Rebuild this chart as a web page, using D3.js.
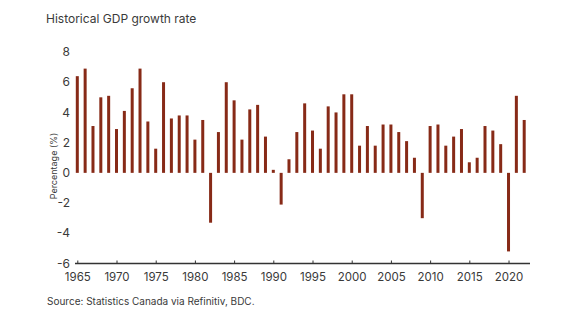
<!DOCTYPE html>
<html>
<head>
<meta charset="utf-8">
<script src="https://cdn.jsdelivr.net/npm/d3@7"></script>
<style>
  html, body { margin: 0; padding: 0; background: #fff; }
  svg { display: block; font-family: Inter, "Noto Sans", sans-serif; }
</style>
</head>
<body>
<svg id="chart" width="575" height="324"></svg>
<script>
const years = d3.range(1965, 2023);
const growth = [
  6.4, 6.9, 3.1, 5.0, 5.1, 2.9, 4.1, 5.6, 6.9, 3.4,
  1.6, 6.0, 3.6, 3.8, 3.8, 2.2, 3.5, -3.3, 2.7, 6.0,
  4.8, 2.2, 4.2, 4.5, 2.4, 0.2, -2.1, 0.9, 2.7, 4.6,
  2.8, 1.6, 4.4, 4.0, 5.2, 5.2, 1.8, 3.1, 1.8, 3.2,
  3.2, 2.7, 2.1, 1.0, -3.0, 3.1, 3.2, 1.8, 2.4, 2.9,
  0.7, 1.0, 3.1, 2.8, 1.9, -5.2, 5.1, 3.5
];
const yTicks = [-6, -4, -2, 0, 2, 4, 6, 8];
const xTicks = [1965, 1970, 1975, 1980, 1985, 1990, 1995, 2000, 2005, 2010, 2015, 2020];
const titleText = "Historical GDP growth rate";
const yLabel = "Percentage (%)";
const sourceText = "Source: Statistics Canada via Refinitiv, BDC.";

const svg = d3.select("#chart");
const x = d3.scaleLinear().domain([1965, 2022]).range([77.3, 524.2]);
const y = d3.scaleLinear().domain([-6, 8]).range([263.5, 52]);
const textColor = "#3a3a3a";

svg.append("text").attr("x", 46).attr("y", 23)
  .attr("font-size", 12).attr("fill", textColor).text(titleText);

// y tick labels
svg.append("g").selectAll("text").data(yTicks).join("text")
  .attr("x", 70).attr("y", d => y(d)).attr("dy", "0.35em")
  .attr("text-anchor", "end").attr("font-size", 12).attr("fill", textColor)
  .text(d => d);

// y label
svg.append("text")
  .attr("transform", `translate(54,166) rotate(-90)`)
  .attr("text-anchor", "middle").attr("dy", "0.35em")
  .attr("font-size", 9).attr("fill", textColor).text(yLabel);

// bars
const bw = 3;
svg.append("g").selectAll("rect").data(years).join("rect")
  .attr("x", (d) => x(d) - bw / 2)
  .attr("width", bw)
  .attr("y", (d, i) => Math.min(y(growth[i]), y(0)))
  .attr("height", (d, i) => Math.max(1, Math.abs(y(growth[i]) - y(0))))
  .attr("fill", "#872a17");

// x axis
const xAxis = d3.axisBottom(x).tickValues(xTicks).tickFormat(d3.format("d"))
  .tickSizeInner(-3).tickSizeOuter(0).tickPadding(9);
const gx = svg.append("g").attr("transform", `translate(0,${y(-6)})`).call(xAxis);
gx.select(".domain").remove();
gx.append("line").attr("x1", 75).attr("x2", 530).attr("y1", 0).attr("y2", 0)
  .attr("stroke", "#333").attr("stroke-width", 1.5);
gx.selectAll(".tick line").attr("stroke", "#333");
gx.selectAll(".tick text").attr("font-size", 11.5).attr("fill", textColor)
  .attr("font-family", "Inter, 'Noto Sans', sans-serif");

svg.append("text").attr("x", 47).attr("y", 305)
  .attr("font-size", 10).attr("fill", textColor).text(sourceText);
</script>
</body>
</html>
